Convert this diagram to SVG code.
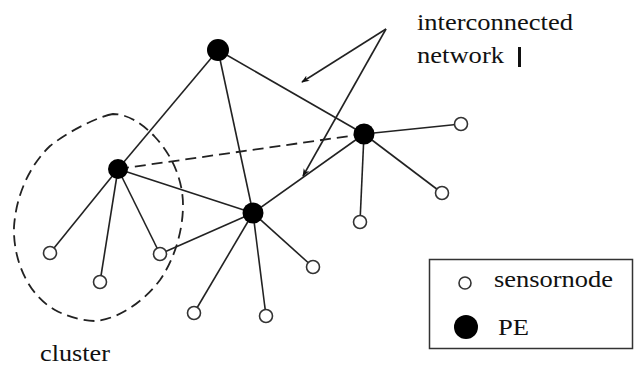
<svg xmlns="http://www.w3.org/2000/svg" width="634" height="367" viewBox="0 0 634 367">
  <style>
    .link { stroke: #222; stroke-width: 1.6; fill: none; }
    .dash { stroke: #222; stroke-width: 1.8; fill: none; stroke-dasharray: 11 6; }
    .pe { fill: #000; }
    .sensor { fill: #fff; stroke: #333; stroke-width: 1.6; }
    .lbl { font-family: "Liberation Serif", "DejaVu Serif", serif; font-size: 23px; fill: #111; }
  </style>
  <defs>
    <marker id="head" viewBox="0 0 10 10" refX="9" refY="5" markerWidth="8" markerHeight="8" orient="auto" markerUnits="userSpaceOnUse">
      <path d="M0,1 L10,5 L0,9 L3,5 Z" fill="#111"/>
    </marker>
  </defs>
  <rect width="634" height="367" fill="#fff"/>

  <!-- cluster boundary -->
  <path class="dash" d="M113,114 C100,116 70,130 50,146 C30,165 16,195 14,227 C13,260 28,295 55,310 C70,318 85,321 95,321 C120,319 145,300 160,280 C175,258 183,230 183,205 C183,180 172,155 155,137 C143,124 128,114 113,114 Z"/>

  <g id="connectors">
    <!-- PE backbone -->
    <line class="link" x1="218" y1="50" x2="118" y2="169"/>
    <line class="link" x1="218" y1="50" x2="253" y2="213"/>
    <line class="link" x1="218" y1="50" x2="364" y2="134"/>
    <line class="dash" x1="118" y1="169" x2="364" y2="134"/>
    <line class="link" x1="118" y1="169" x2="253" y2="213"/>
    <line class="link" x1="253" y1="213" x2="364" y2="134"/>
    <!-- sensor links -->
    <line class="link" x1="118" y1="169" x2="50" y2="253"/>
    <line class="link" x1="118" y1="169" x2="100" y2="282"/>
    <line class="link" x1="118" y1="169" x2="160" y2="254"/>
    <line class="link" x1="253" y1="213" x2="160" y2="254"/>
    <line class="link" x1="253" y1="213" x2="194" y2="313"/>
    <line class="link" x1="253" y1="213" x2="266" y2="316"/>
    <line class="link" x1="253" y1="213" x2="313" y2="267"/>
    <line class="link" x1="364" y1="134" x2="461" y2="124"/>
    <line class="link" x1="364" y1="134" x2="442" y2="193"/>
    <line class="link" x1="364" y1="134" x2="360" y2="222"/>
    <!-- label pointers -->
    <line class="link" x1="386" y1="29" x2="302" y2="82" marker-end="url(#head)"/>
    <line class="link" x1="386" y1="29" x2="303" y2="176" marker-end="url(#head)"/>
  </g>

  <g id="pe-top"><circle class="pe" cx="218" cy="50" r="11"/></g>
  <g id="pe-left"><circle class="pe" cx="118" cy="169" r="10"/></g>
  <g id="pe-center"><circle class="pe" cx="253" cy="213" r="10.5"/></g>
  <g id="pe-right"><circle class="pe" cx="364" cy="134" r="10.5"/></g>

  <g id="s1"><circle class="sensor" cx="50" cy="253" r="6.5"/></g>
  <g id="s2"><circle class="sensor" cx="100" cy="282" r="6.5"/></g>
  <g id="s3"><circle class="sensor" cx="160" cy="254" r="6.5"/></g>
  <g id="s4"><circle class="sensor" cx="194" cy="313" r="6.5"/></g>
  <g id="s5"><circle class="sensor" cx="266" cy="316" r="6.5"/></g>
  <g id="s6"><circle class="sensor" cx="313" cy="267" r="6.5"/></g>
  <g id="s7"><circle class="sensor" cx="360" cy="222" r="6.5"/></g>
  <g id="s8"><circle class="sensor" cx="442" cy="193" r="6.5"/></g>
  <g id="s9"><circle class="sensor" cx="461" cy="124" r="6.5"/></g>

  <g id="label-network">
    <text class="lbl" x="417" y="30" textLength="156" lengthAdjust="spacingAndGlyphs">interconnected</text>
    <text class="lbl" x="417" y="63" textLength="87" lengthAdjust="spacingAndGlyphs">network</text>
    <rect x="518" y="47" width="3" height="20" fill="#111"/>
  </g>

  <g id="label-cluster">
    <text class="lbl" x="40" y="361" textLength="70" lengthAdjust="spacingAndGlyphs">cluster</text>
  </g>

  <g id="legend">
    <rect x="429.5" y="259.5" width="203" height="89" fill="#fff" stroke="#333" stroke-width="1.5"/>
    <circle class="sensor" cx="465" cy="283" r="6"/>
    <text class="lbl" x="494" y="287" textLength="119" lengthAdjust="spacingAndGlyphs">sensornode</text>
    <circle class="pe" cx="466" cy="327" r="12"/>
    <text class="lbl" x="498" y="335" textLength="31" lengthAdjust="spacingAndGlyphs">PE</text>
  </g>
</svg>
